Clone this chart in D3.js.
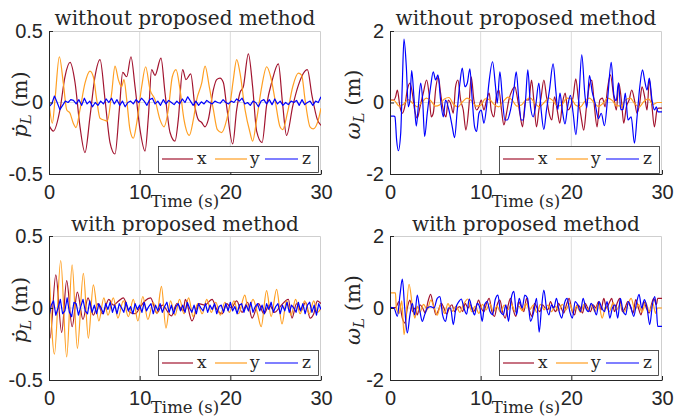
<!DOCTYPE html>
<html>
<head>
<meta charset="utf-8">
<script src="https://cdn.jsdelivr.net/npm/d3@7"></script>
<style>
  html, body { margin: 0; padding: 0; background: #fff; }
  svg { display: block; }
</style>
</head>
<body>
<svg id="chart" width="674" height="416"></svg>
<script>
// ---------------- DATA ----------------
const xTicks = [0, 10, 20, 30];
const pTicks = [-0.5, 0, 0.5];
const wTicks = [-2, 0, 2];
const seriesNames = ["x", "y", "z"];
const panelTitles = ["without proposed method", "without proposed method", "with proposed method", "with proposed method"];
const xLabel = "Time (s)";

// Panel 1: p_L without proposed method  ([time, value])
const pWithoutX = [[0,-0.16],[0.48,-0.20],[1.21,-0.05],[1.76,0.18],[2.32,0.28],[2.87,0.14],[3.42,-0.17],[3.97,-0.35],[4.52,-0.10],[5.07,0.18],[5.63,0.30],[6.18,0.02],[6.73,-0.28],[7.28,-0.36],[7.76,-0.05],[8.13,0.21],[8.57,0.18],[9.04,0.32],[9.49,0.11],[10.04,-0.19],[10.59,-0.34],[10.96,-0.10],[11.32,0.23],[11.69,0.19],[12.35,0.31],[12.79,0.07],[13.35,-0.21],[13.90,-0.27],[14.26,-0.12],[14.74,0.23],[15.11,0.16],[15.63,0.20],[16.10,-0.03],[16.47,-0.12],[16.84,-0.14],[17.21,-0.17],[17.57,-0.12],[18.13,0.09],[18.49,0.16],[18.86,0.17],[19.23,0.14],[19.60,-0.03],[20.26,-0.29],[20.70,-0.05],[21.07,0.07],[21.43,0.11],[21.99,0.34],[22.46,0.11],[22.9,-0.2],[23.5,-0.28],[24.0,-0.02],[24.6,0.15],[25.3,0.27],[25.75,0.0],[26.2,-0.23],[26.9,-0.02],[27.5,0.12],[28.5,0.23],[29.0,0.05],[29.6,-0.12],[30,-0.16]];
const pWithoutY = [[0,0.0],[0.37,-0.145],[0.66,0.02],[1.14,0.32],[1.58,0.135],[1.95,-0.05],[2.32,-0.075],[2.68,-0.145],[2.98,-0.175],[3.42,-0.05],[3.97,0.135],[4.52,0.22],[4.89,0.18],[5.26,0.02],[5.63,-0.11],[6.18,-0.125],[6.43,-0.13],[6.91,0.065],[7.28,0.255],[7.65,0.16],[8.01,0.11],[8.27,0.16],[8.57,0.02],[8.93,-0.19],[9.30,-0.25],[9.67,-0.145],[10.22,0.11],[10.66,0.25],[11.14,0.09],[11.69,0.02],[12.24,-0.12],[12.68,-0.17],[13.16,-0.05],[13.60,0.18],[14.01,0.23],[14.45,0.09],[14.89,-0.12],[15.48,-0.23],[15.92,-0.12],[16.29,0.02],[16.84,0.135],[17.21,0.255],[17.68,0.11],[18.13,-0.05],[18.57,-0.19],[19.04,-0.21],[19.60,-0.12],[20.04,0.02],[20.33,0.16],[20.70,0.30],[21.07,0.205],[21.62,-0.05],[22.17,-0.21],[22.46,-0.27],[22.90,-0.12],[23.46,0.11],[24.01,0.25],[24.45,0.18],[24.93,0.02],[25.48,-0.17],[25.77,-0.19],[26.29,-0.075],[26.88,0.11],[27.50,0.205],[27.87,0.19],[28.24,0.02],[28.79,-0.17],[29.15,-0.185],[29.71,-0.12],[30,-0.04]];
const pWithoutZStep = 0.3;
const pWithoutZ = [-0.03,-0.01,0.045,0.0,-0.05,-0.02,0.01,0.0,0.02,0.015,-0.01,0.02,-0.02,0.03,-0.01,0.01,-0.03,0.0,-0.02,0.01,-0.01,0.025,0.0,0.03,-0.01,0.02,-0.02,0.01,-0.03,0.0,0.01,-0.01,0.02,0.0,0.03,0.01,-0.02,0.02,0.03,-0.01,0.01,-0.02,0.02,-0.01,0.015,0.0,-0.015,0.01,-0.01,0.025,0.0,0.04,0.01,-0.02,0.01,-0.02,0.005,-0.01,0.015,0.0,-0.01,0.01,0.0,-0.005,0.02,0.0,-0.01,0.01,0.0,0.025,0.01,0.03,-0.01,0.0,-0.02,0.01,0.0,-0.03,0.01,0.02,-0.01,0.02,-0.015,0.025,-0.01,0.01,-0.02,0.0,-0.015,0.01,0.0,0.015,-0.02,0.02,-0.015,0.0,0.01,-0.02,0.01,0.0,0.04];

// Panel 2: omega_L without proposed method
const wWithoutX = [[0,0.07],[0.44,0.07],[0.62,0.16],[0.81,0.35],[1.10,-0.12],[1.36,-0.30],[1.62,-0.12],[1.91,0.35],[2.20,0.54],[2.46,0.26],[2.72,-0.21],[3.01,-0.44],[3.31,-0.12],[3.67,0.26],[4.04,0.63],[4.30,0.26],[4.55,-0.40],[4.77,-0.30],[5.07,0.44],[5.33,0.72],[5.58,0.26],[5.88,-0.21],[6.17,-0.40],[6.43,0.07],[6.68,-0.02],[6.98,-0.30],[7.23,0.44],[7.49,0.63],[7.79,0.07],[8.08,-0.21],[8.37,-0.77],[8.70,-0.12],[8.96,0.72],[9.25,0.07],[9.55,-0.21],[9.81,-0.12],[10.06,0.07],[10.36,-0.21],[10.65,0.07],[10.94,0.26],[11.16,-0.21],[11.46,-0.40],[11.72,0.16],[12.01,0.35],[12.30,-0.21],[12.56,-0.63],[12.85,-0.30],[13.11,0.07],[13.48,0.35],[13.77,0.44],[14.03,0.16],[14.32,-0.30],[14.62,-0.68],[14.95,0.07],[15.31,0.07],[15.61,0.63],[15.86,0.07],[16.16,-0.68],[16.42,-0.21],[16.67,0.16],[16.97,0.63],[17.26,0.16],[17.55,-0.30],[17.85,-0.49],[18.14,0.16],[18.44,-0.21],[18.73,-0.58],[19.02,-0.02],[19.32,0.26],[19.61,-0.21],[19.90,-0.12],[20.20,0.16],[20.49,0.66],[20.79,0.07],[21.08,-0.40],[21.37,-0.77],[21.67,-0.12],[21.96,0.44],[22.26,0.63],[22.55,-0.12],[22.84,-0.68],[23.14,0.07],[23.43,0.12],[23.72,-0.12],[24.02,0.44],[24.31,0.77],[24.68,0.16],[24.97,-0.21],[25.23,0.54],[25.52,0.07],[25.78,-0.58],[26.07,-0.12],[26.37,0.07],[26.66,0.35],[26.96,0.07],[27.25,-0.30],[27.54,-0.02],[27.80,0.44],[28.09,0.16],[28.35,-0.21],[28.61,0.63],[28.90,-0.12],[29.16,-0.68],[29.45,-0.21],[29.64,-0.16],[30,-0.16]];
const wWithoutYStep = 0.5;
const wWithoutY = [0.07,0.05,-0.10,-0.05,0.08,-0.02,-0.12,0.0,0.12,0.05,-0.10,-0.06,0.10,0.14,-0.05,-0.12,0.02,0.12,0.05,-0.10,-0.08,0.10,0.08,-0.06,-0.12,0.03,0.15,0.06,-0.10,-0.07,0.08,0.12,-0.03,-0.12,0.0,0.13,0.04,-0.10,-0.05,0.12,0.10,-0.08,-0.12,0.04,0.12,0.0,-0.11,-0.02,0.12,0.06,-0.09,-0.10,0.08,0.12,-0.04,-0.12,0.03,0.10,-0.05,0.0,0.0];
const wWithoutZ = [[0,-0.38],[0.44,-0.38],[0.55,-0.40],[0.73,-1.05],[0.92,-1.35],[1.18,-0.86],[1.36,0.54],[1.54,1.77],[1.80,1.00],[2.02,-0.12],[2.20,0.07],[2.39,0.89],[2.64,0.16],[2.90,-0.66],[3.12,-0.12],[3.38,0.54],[3.60,0.07],[3.82,-0.95],[4.11,-0.30],[4.48,0.44],[4.77,0.86],[5.03,0.63],[5.29,0.77],[5.58,0.07],[5.88,-0.40],[6.13,0.07],[6.50,-0.21],[6.87,-0.68],[7.12,-0.98],[7.42,-0.21],[7.71,0.54],[7.97,0.96],[8.26,0.44],[8.52,0.54],[8.81,0.94],[9.07,0.07],[9.33,-0.68],[9.55,-0.81],[9.81,-0.30],[10.06,-0.21],[10.36,-0.58],[10.65,-0.12],[10.91,0.54],[11.31,1.14],[11.64,0.44],[11.83,-0.02],[12.12,0.86],[12.41,0.07],[12.67,-0.49],[12.93,-0.49],[13.29,-0.21],[13.66,0.35],[13.92,0.86],[14.21,0.07],[14.47,-0.49],[14.69,-0.49],[14.95,0.07],[15.20,0.91],[15.50,-0.12],[15.79,-0.40],[16.05,-0.12],[16.42,0.54],[16.67,-0.21],[16.97,-0.75],[17.26,-0.21],[17.59,0.35],[17.99,1.08],[18.3,0.3],[18.5,-0.2],[18.75,0.26],[19.0,-0.21],[19.3,-0.6],[19.6,-0.1],[19.9,0.2],[20.2,-0.3],[20.5,-0.9],[20.85,0.2],[21.15,1.33],[21.5,0.2],[21.7,-0.15],[22.0,0.75],[22.3,0.3],[22.6,0.0],[23.0,-0.45],[23.3,-0.3],[23.65,-0.65],[24.0,0.1],[24.4,1.12],[24.7,0.2],[24.95,0.05],[25.2,0.55],[25.45,-0.2],[25.7,-0.2],[25.95,0.26],[26.25,-0.49],[26.6,-0.40],[26.96,-1.14],[27.25,-0.40],[27.55,0.44],[27.85,0.91],[28.1,0.6],[28.35,0.35],[28.6,0.68],[28.9,0.07],[29.16,-0.21],[29.38,-0.12],[29.56,-0.26],[30,-0.26]];

// Panel 3: p_L with proposed method
const pWithX = [[0,-0.19],[0.11,-0.21],[0.75,0.23],[1.4,-0.17],[1.95,0.19],[2.55,-0.13],[3.13,0.11],[3.75,-0.08],[4.3,0.07],[4.9,-0.05],[5.4,0.03],[5.9,-0.04],[6.6,0.06],[7.1,0.02],[7.7,0.05],[8.2,0.07],[8.9,-0.03],[9.5,-0.04],[10.1,0.01],[10.6,0.05],[11.2,0.07],[11.9,-0.035],[12.5,0.02],[13.5,-0.055],[14.1,0.03],[14.8,-0.02],[15.04,0.06],[15.77,-0.09],[16.5,0.03],[17.2,0.02],[17.98,0.06],[18.5,-0.01],[19.1,-0.04],[19.6,0.03],[20.1,0.0],[20.7,0.05],[21.3,-0.03],[21.9,0.04],[22.4,-0.07],[23.1,0.03],[23.7,-0.04],[24.3,0.02],[24.9,-0.03],[25.5,0.01],[26.4,0.06],[26.8,-0.07],[27.3,0.03],[27.8,-0.02],[28.3,0.04],[28.8,-0.07],[29.2,-0.04],[29.6,0.05],[30,0.03]];
const pWithY = [[0,0.29],[0.6,-0.32],[1.29,0.33],[1.95,-0.34],[2.55,0.30],[3.13,-0.28],[3.79,0.24],[4.34,-0.21],[4.89,0.16],[5.5,-0.09],[6.05,0.07],[6.5,-0.05],[7.1,0.07],[7.6,-0.07],[8.2,0.05],[8.75,-0.06],[9.3,0.06],[9.8,-0.09],[10.35,0.08],[10.9,-0.08],[11.5,0.04],[11.9,-0.04],[12.4,0.15],[12.9,-0.14],[13.4,0.05],[13.9,-0.05],[14.4,0.06],[14.9,-0.04],[15.4,0.07],[15.9,-0.06],[16.4,0.03],[16.9,-0.04],[17.4,0.06],[17.9,-0.03],[18.4,0.04],[18.9,-0.05],[19.4,0.04],[19.9,-0.03],[20.4,0.05],[20.9,-0.04],[21.6,0.09],[22.0,-0.02],[22.5,0.06],[23.0,-0.04],[23.4,-0.13],[24.0,0.12],[24.5,-0.06],[25.1,0.13],[25.7,-0.11],[26.2,0.05],[26.7,-0.05],[27.2,0.06],[27.7,-0.04],[28.2,0.05],[28.7,-0.04],[29.2,0.05],[29.6,-0.03],[30,0.0]];
const pWithZStep = 0.25;
const pWithZ = [-0.06,0.02,0.05,-0.05,0.0,0.06,-0.04,-0.02,0.07,-0.03,-0.06,0.04,0.03,-0.05,0.01,0.06,-0.02,-0.04,0.05,-0.03,0.02,-0.04,0.03,0.0,-0.04,0.03,-0.01,0.04,-0.03,0.02,-0.04,0.03,0.0,-0.03,0.04,-0.02,0.01,-0.04,0.03,-0.01,0.02,-0.03,0.04,-0.02,0.01,0.03,-0.04,0.02,-0.02,0.03,-0.03,0.01,0.04,-0.03,0.02,-0.04,0.01,0.03,-0.02,0.02,-0.03,0.04,0.0,-0.03,0.02,-0.04,0.03,0.0,-0.02,0.03,-0.03,0.02,-0.01,0.03,-0.04,0.01,0.02,-0.03,0.03,-0.02,0.04,-0.02,0.01,-0.04,0.02,0.03,-0.03,0.02,-0.02,0.04,-0.03,0.01,0.03,-0.02,0.02,-0.04,0.03,-0.01,0.04,-0.03,0.01,0.03,-0.04,0.02,-0.02,0.04,-0.03,0.02,0.0,-0.03,0.04,-0.02,0.03,-0.04,0.02,0.04,-0.03,0.02,-0.05,0.03,-0.01];

// Panel 4: omega_L with proposed method
const wWithX = [[0,0.01],[0.62,0.01],[0.99,0.18],[1.36,-0.28],[1.65,-0.42],[1.91,0.0],[2.20,0.22],[2.50,-0.10],[2.75,0.0],[3.01,-0.19],[3.31,0.09],[3.60,0.0],[3.89,-0.14],[4.19,0.18],[4.48,0.38],[4.77,0.09],[5.07,-0.19],[5.36,-0.05],[5.66,0.13],[5.95,0.0],[6.24,-0.17],[6.54,0.0],[6.83,0.09],[7.12,-0.10],[7.42,0.0],[7.71,0.04],[8.01,-0.10],[8.30,0.13],[8.59,0.0],[8.89,0.09],[9.18,-0.10],[9.47,0.0],[9.77,0.22],[10.06,0.0],[10.36,-0.10],[10.65,0.13],[10.94,0.27],[11.24,-0.10],[11.53,-0.23],[11.82,0.09],[12.12,0.22],[12.41,-0.10],[12.71,-0.28],[13.0,0.04],[13.29,0.27],[13.59,-0.05],[13.88,-0.23],[14.18,0.18],[14.47,0.04],[14.76,-0.10],[15.06,0.27],[15.35,-0.05],[15.64,-0.23],[15.94,0.13],[16.23,0.0],[16.53,-0.10],[16.82,0.09],[17.11,0.0],[17.41,-0.05],[17.70,0.18],[17.99,0.0],[18.29,-0.10],[18.58,0.13],[18.88,0.0],[19.17,-0.14],[19.46,0.09],[19.76,0.27],[20.05,-0.05],[20.35,-0.19],[20.64,0.09],[20.93,0.04],[21.23,-0.14],[21.52,0.13],[21.81,0.0],[22.11,-0.10],[22.40,0.09],[22.70,0.0],[22.99,0.18],[23.28,-0.05],[23.58,0.27],[23.87,0.0],[24.16,0.13],[24.46,0.27],[24.75,-0.10],[25.05,0.13],[25.34,0.27],[25.63,-0.10],[25.93,0.0],[26.22,0.18],[26.51,0.04],[26.81,-0.14],[27.10,0.23],[27.40,0.0],[27.69,-0.19],[27.98,0.18],[28.28,0.0],[28.57,-0.14],[28.87,0.13],[29.09,0.27],[29.38,0.09],[29.53,0.27],[30,0.27]];
const wWithY = [[0,0.42],[0.6,0.42],[0.7,0.0],[1.0,-0.15],[1.3,0.2],[1.55,-0.74],[2.1,0.66],[2.5,0.0],[2.75,-0.28],[3.0,0.05],[3.3,-0.12],[3.7,0.1],[4.1,-0.05],[4.5,0.22],[4.9,0.0],[5.2,-0.2],[5.6,0.1],[6.0,-0.15],[6.4,0.12],[6.8,-0.1],[7.3,0.05],[7.7,-0.12],[8.1,0.1],[8.6,0.25],[9.0,-0.1],[9.4,0.05],[9.8,-0.15],[10.2,0.1],[10.6,-0.05],[11.0,0.12],[11.4,-0.1],[11.8,0.05],[12.2,-0.12],[12.6,0.08],[13.0,-0.05],[13.4,0.1],[13.8,-0.1],[14.2,0.05],[14.6,-0.08],[15.0,0.12],[15.4,-0.05],[15.8,0.08],[16.2,-0.12],[16.6,0.1],[17.0,-0.05],[17.4,0.08],[17.8,-0.1],[18.2,0.05],[18.6,-0.08],[19.0,0.1],[19.4,-0.05],[19.8,0.12],[20.2,-0.1],[20.6,0.05],[21.0,-0.12],[21.4,0.1],[21.8,-0.05],[22.2,0.08],[22.6,-0.1],[23.0,0.12],[23.4,-0.28],[23.8,0.05],[24.2,-0.1],[24.6,0.15],[25.0,-0.05],[25.4,0.1],[25.8,-0.12],[26.2,0.08],[26.6,0.27],[27.0,-0.05],[27.4,0.1],[27.8,-0.12],[28.2,0.15],[28.6,-0.1],[29.0,0.12],[29.3,-0.15],[29.5,0.0],[30,0.0]];
const wWithZ = [[0,0.02],[0.44,0.0],[0.81,-0.23],[1.10,0.36],[1.36,0.80],[1.62,0.0],[1.91,-0.69],[2.20,-0.19],[2.46,0.13],[2.72,-0.19],[3.01,0.36],[3.31,-0.10],[3.56,-0.37],[3.82,-0.19],[4.11,0.0],[4.48,0.04],[4.85,0.0],[5.21,0.27],[5.51,0.32],[5.80,-0.19],[6.13,-0.37],[6.43,0.0],[6.68,0.0],[6.98,-0.46],[7.27,0.0],[7.60,0.18],[7.86,0.25],[8.15,0.0],[8.45,-0.17],[8.74,0.25],[9.03,0.0],[9.33,-0.19],[9.62,0.13],[9.92,0.0],[10.17,-0.37],[10.43,0.09],[10.72,0.18],[11.02,-0.10],[11.31,-0.19],[11.60,0.23],[11.90,0.36],[12.19,-0.10],[12.49,-0.19],[12.78,0.09],[13.07,-0.37],[13.37,0.27],[13.66,0.46],[13.96,-0.19],[14.25,0.27],[14.58,0.0],[14.87,0.36],[15.17,0.27],[15.50,-0.37],[15.86,-0.10],[16.16,0.27],[16.45,-0.67],[16.71,0.0],[16.97,0.50],[17.26,0.0],[17.52,-0.19],[17.81,0.09],[18.07,0.0],[18.36,0.27],[18.66,-0.10],[18.95,-0.28],[19.24,0.13],[19.54,0.27],[19.83,-0.10],[20.12,-0.28],[20.42,0.18],[20.71,0.09],[21.01,-0.10],[21.30,0.27],[21.59,0.0],[21.89,-0.10],[22.18,0.13],[22.48,0.0],[22.77,-0.19],[23.06,0.18],[23.36,0.0],[23.65,-0.10],[23.94,0.18],[24.24,-0.28],[24.53,0.0],[24.83,0.09],[25.12,-0.28],[25.41,0.27],[25.71,-0.10],[26.00,-0.19],[26.29,0.18],[26.59,0.0],[26.88,-0.23],[27.18,0.13],[27.47,0.38],[27.76,0.0],[28.06,0.23],[28.35,0.0],[28.65,-0.46],[28.94,0.09],[29.20,0.32],[29.38,0.0],[29.53,-0.51],[30,-0.51]];

// ---------------- STYLE ----------------
const colors = ["#A2142F", "#FF9F22", "#0000FF"];
const ink = "#262626";
const serif = "'DejaVu Serif', 'Liberation Serif', serif";
const sans = "'Liberation Sans', Arial, sans-serif";

const stepPairs = (vals, step) => vals.map((v, i) => [i * step, v]);

const svg = d3.select("#chart");

function drawPanel(cfg, idx) {
  const {x0, x1, y0, y1, ydom, yticks, title, titleY, sym, series, smooth, legend, ylabCx} = cfg;
  const x = d3.scaleLinear().domain([0, 30]).range([x0, x1]);
  const y = d3.scaleLinear().domain(ydom).range([y1, y0]);
  const g = svg.append("g");

  // grid
  g.selectAll(".vg").data(xTicks.slice(1, -1)).join("line")
    .attr("x1", d => x(d)).attr("x2", d => x(d)).attr("y1", y0).attr("y2", y1)
    .attr("stroke", "#dcdcdc").attr("stroke-width", 1);
  g.selectAll(".hg").data([0]).join("line")
    .attr("x1", x0).attr("x2", x1).attr("y1", d => y(d)).attr("y2", d => y(d))
    .attr("stroke", "#dcdcdc").attr("stroke-width", 1);
  // top / right box
  g.append("path").attr("d", `M${x0},${y0 + 0.5}H${x1 - 0.5}V${y1}`)
    .attr("fill", "none").attr("stroke", "#cfcfcf").attr("stroke-width", 1);

  // clip
  const cid = "clip" + idx;
  svg.append("clipPath").attr("id", cid).append("rect")
    .attr("x", x0).attr("y", y0).attr("width", x1 - x0).attr("height", y1 - y0);

  const lineGen = (curve) => d3.line().x(d => x(d[0])).y(d => y(d[1])).curve(curve);
  const lg = g.append("g").attr("clip-path", `url(#${cid})`);
  series.forEach((s, i) => {
    lg.append("path").datum(s)
      .attr("d", lineGen(smooth[i] ? d3.curveMonotoneX : d3.curveLinear))
      .attr("fill", "none").attr("stroke", colors[i]).attr("stroke-width", 1.2)
      .attr("stroke-linejoin", "round");
  });

  // axes
  const ax = g.append("g").attr("transform", `translate(0,${y1})`)
    .call(d3.axisBottom(x).tickValues(xTicks).tickFormat(d => String(d))
      .tickSizeInner(-4).tickSizeOuter(0).tickPadding(11));
  const ay = g.append("g").attr("transform", `translate(${x0},0)`)
    .call(d3.axisLeft(y).tickValues(yticks).tickFormat(d => String(d))
      .tickSizeInner(-4).tickSizeOuter(0).tickPadding(6));
  [ax, ay].forEach(a => {
    a.select(".domain").attr("stroke", ink).attr("stroke-width", 1);
    a.selectAll(".tick line").attr("stroke", ink);
    a.selectAll(".tick text").attr("fill", ink).style("font-family", sans).style("font-size", "20px");
  });

  // title
  g.append("text").attr("x", (x0 + x1) / 2).attr("y", titleY)
    .attr("text-anchor", "middle").attr("fill", ink)
    .style("font-family", serif).style("font-size", "20px").text(title);

  // x label
  g.append("text").attr("x", (x0 + x1) / 2).attr("y", y1 + 33)
    .attr("text-anchor", "middle").attr("fill", ink)
    .style("font-family", serif).style("font-size", "16.5px").text(xLabel);

  // y label
  const cy = (y0 + y1) / 2 + 2;
  const yl = g.append("text").attr("transform", `translate(${ylabCx},${cy}) rotate(-90)`)
    .attr("text-anchor", "middle").attr("dy", "0.35em").attr("fill", ink)
    .style("font-family", serif).style("font-size", "21px");
  yl.append("tspan").style("font-style", "italic").text(sym);
  yl.append("tspan").style("font-style", "italic").style("font-size", "15px").attr("dy", 4).text("L");
  yl.append("tspan").attr("dy", -4).text(" (m)");

  // legend
  const {lx, ly, lw, lh} = legend;
  const leg = g.append("g");
  leg.append("rect").attr("x", lx + 0.5).attr("y", ly + 0.5).attr("width", lw).attr("height", lh)
    .attr("fill", "#fff").attr("stroke", ink).attr("stroke-width", 0.8);
  const offs = [[4, 35, 39], [57, 89, 92], [107, 140, 144]];
  seriesNames.forEach((n, i) => {
    const o = offs[i];
    leg.append("line").attr("x1", lx + o[0]).attr("x2", lx + o[1])
      .attr("y1", ly + 13).attr("y2", ly + 13)
      .attr("stroke", colors[i]).attr("stroke-width", 1.2);
    leg.append("text").attr("x", lx + o[2]).attr("y", ly + 18).attr("fill", ink)
      .style("font-family", serif).style("font-size", "17px").text(n);
  });
}

const panels = [
  {x0: 49, x1: 321, y0: 31, y1: 174, ydom: [-0.5, 0.5], yticks: pTicks, title: panelTitles[0], titleY: 25,
   sym: "\u1E57", ylabCx: 20,
   series: [pWithoutX, pWithoutY, stepPairs(pWithoutZ, pWithoutZStep)], smooth: [true, true, false],
   legend: {lx: 158, ly: 146, lw: 160, lh: 26}},
  {x0: 390, x1: 662, y0: 31, y1: 174, ydom: [-2, 2], yticks: wTicks, title: panelTitles[1], titleY: 25,
   sym: "\u03C9", ylabCx: 353,
   series: [wWithoutX, stepPairs(wWithoutY, wWithoutYStep), wWithoutZ], smooth: [true, true, true],
   legend: {lx: 499, ly: 146, lw: 160, lh: 27}},
  {x0: 49, x1: 321, y0: 236, y1: 380, ydom: [-0.5, 0.5], yticks: pTicks, title: panelTitles[2], titleY: 231,
   sym: "\u1E57", ylabCx: 20,
   series: [pWithX, pWithY, stepPairs(pWithZ, pWithZStep)], smooth: [true, true, false],
   legend: {lx: 158, ly: 350, lw: 160, lh: 25}},
  {x0: 390, x1: 662, y0: 236, y1: 380, ydom: [-2, 2], yticks: wTicks, title: panelTitles[3], titleY: 231,
   sym: "\u03C9", ylabCx: 353,
   series: [wWithX, wWithY, wWithZ], smooth: [true, true, true],
   legend: {lx: 499, ly: 350, lw: 159, lh: 25}}
];

panels.forEach((p, i) => drawPanel(p, i));
</script>
</body>
</html>
